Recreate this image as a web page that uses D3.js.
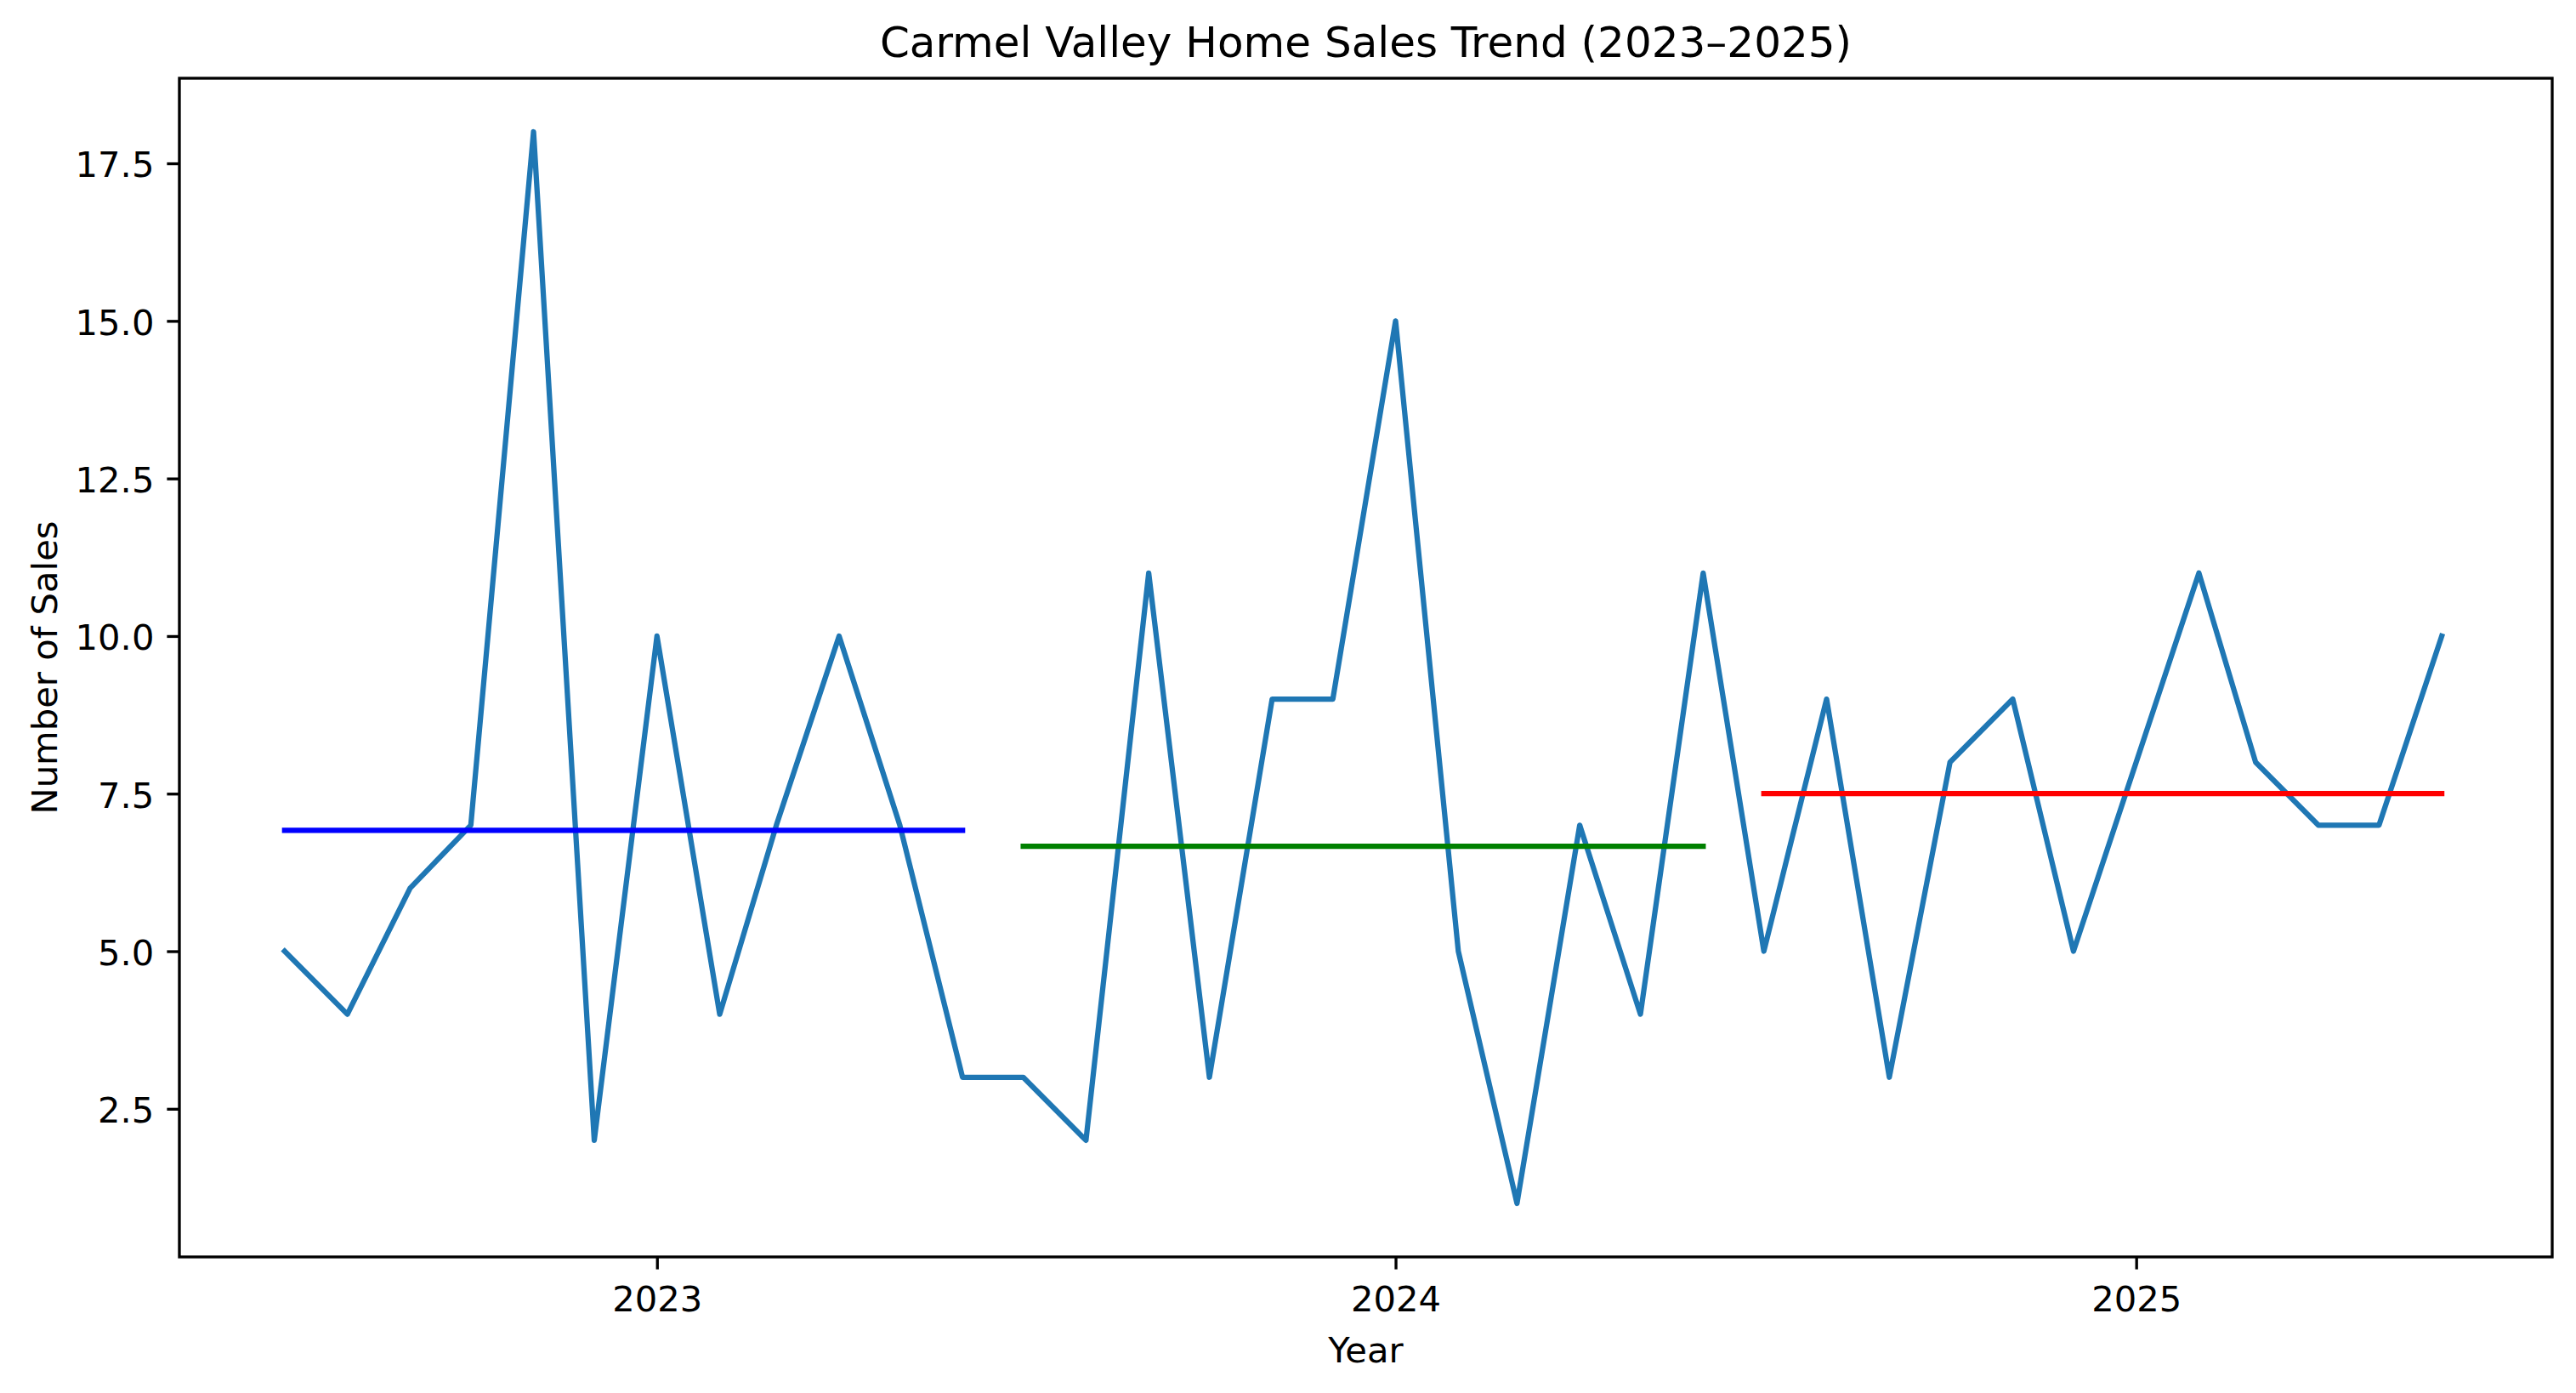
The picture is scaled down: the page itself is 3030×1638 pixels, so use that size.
<!DOCTYPE html>
<html>
<head>
<meta charset="utf-8">
<script src="https://cdn.jsdelivr.net/npm/d3@7"></script>
<style>
  body { margin: 0; background: #fff; }
  text { font-family: "DejaVu Sans", sans-serif; fill: #000; }
</style>
</head>
<body>
<svg id="chart"></svg>
<script>
// monthly sales, Jul 2022 .. Jun 2025
var months = ["2022-07","2022-08","2022-09","2022-10","2022-11","2022-12",
              "2023-01","2023-02","2023-03","2023-04","2023-05","2023-06",
              "2023-07","2023-08","2023-09","2023-10","2023-11","2023-12",
              "2024-01","2024-02","2024-03","2024-04","2024-05","2024-06",
              "2024-07","2024-08","2024-09","2024-10","2024-11","2024-12",
              "2025-01","2025-02","2025-03","2025-04","2025-05","2025-06"];
var sales = [5, 4, 6, 7, 18, 2, 10, 4, 7, 10, 7, 3,
             3, 2, 11, 3, 9, 9, 15, 5, 1, 7, 4, 11,
             5, 9, 3, 8, 9, 5, 8, 11, 8, 7, 7, 10];

// 12-month periods that get an average line
var periodStart = ["2022-07", "2023-07", "2024-07"];
var periodEnd   = ["2023-06", "2024-06", "2025-06"];

var yearTicks = ["2023-01", "2024-01", "2025-01"];
var yTicks = [2.5, 5.0, 7.5, 10.0, 12.5, 15.0, 17.5];

var meanColors = ["blue", "green", "red"];

var W = 3030, H = 1638;
var margin = {top: 92, right: 28, bottom: 160, left: 211};
var width = W - margin.left - margin.right,
    height = H - margin.top - margin.bottom;

var parseMonth = d3.timeParse("%Y-%m");
var data = months.map(function(m, i) { return {date: parseMonth(m), value: sales[i]}; });

var svg = d3.select("#chart")
  .attr("width", W)
  .attr("height", H)
  .append("g")
  .attr("transform", "translate(" + margin.left + "," + margin.top + ")");

// roughly matplotlib's 5% margins
var xExt = d3.extent(data, function(d) { return d.date; });
var span = xExt[1] - xExt[0];
var x = d3.scaleTime()
  .domain([new Date(+xExt[0] - span * 0.0488), new Date(+xExt[1] + span * 0.0512)])
  .range([0, width]);

var yExt = d3.extent(data, function(d) { return d.value; });
var yPad = (yExt[1] - yExt[0]) * 0.05;
var y = d3.scaleLinear()
  .domain([yExt[0] - yPad, yExt[1] + yPad])
  .range([height, 0]);

var tickLen = 14.6, lw = 3.33;

// X axis
var xAxis = svg.append("g")
  .attr("transform", "translate(0," + height + ")")
  .call(d3.axisBottom(x)
    .tickValues(yearTicks.map(parseMonth))
    .tickFormat(d3.timeFormat("%Y"))
    .tickSize(tickLen)
    .tickSizeOuter(0)
    .tickPadding(20));
xAxis.select(".domain").remove();
xAxis.selectAll("line").attr("stroke-width", lw);
xAxis.selectAll("text").style("font-size", "41.7px").attr("font-family", null);

// Y axis
var yAxis = svg.append("g")
  .call(d3.axisLeft(y)
    .tickValues(yTicks)
    .tickFormat(d3.format(".1f"))
    .tickSize(tickLen)
    .tickSizeOuter(0)
    .tickPadding(15));
yAxis.select(".domain").remove();
yAxis.selectAll("line").attr("stroke-width", lw);
yAxis.selectAll("text").style("font-size", "41.7px").attr("dy", "0.38em").attr("font-family", null);

// main line
svg.append("path")
  .datum(data)
  .attr("fill", "none")
  .attr("stroke", "#1f77b4")
  .attr("stroke-width", 6.25)
  .attr("stroke-linejoin", "round")
  .attr("stroke-linecap", "square")
  .attr("d", d3.line()
    .x(function(d) { return x(d.date); })
    .y(function(d) { return y(d.value); }));

// yearly averages
periodStart.forEach(function(s, i) {
  var a = parseMonth(s), b = parseMonth(periodEnd[i]);
  var seg = data.filter(function(d) { return d.date >= a && d.date <= b; });
  var avg = d3.mean(seg, function(d) { return d.value; });
  svg.append("path")
    .datum([[a, avg], [b, avg]])
    .attr("fill", "none")
    .attr("stroke", meanColors[i])
    .attr("stroke-width", 6.25)
    .attr("stroke-linecap", "square")
    .attr("d", d3.line()
      .x(function(d) { return x(d[0]); })
      .y(function(d) { return y(d[1]); }));
});

// frame
svg.append("rect")
  .attr("width", width)
  .attr("height", height)
  .attr("fill", "none")
  .attr("stroke", "#000")
  .attr("stroke-width", lw);

// title and labels
svg.append("text")
  .attr("x", width / 2)
  .attr("y", -25)
  .attr("text-anchor", "middle")
  .style("font-size", "50px")
  .text("Carmel Valley Home Sales Trend (2023\u20132025)");

svg.append("text")
  .attr("x", width / 2)
  .attr("y", height + 124)
  .attr("text-anchor", "middle")
  .style("font-size", "41.7px")
  .text("Year");

svg.append("text")
  .attr("transform", "translate(" + (67 - margin.left) + "," + (height / 2) + ") rotate(-90)")
  .attr("text-anchor", "middle")
  .style("font-size", "41.7px")
  .text("Number of Sales");
</script>
</body>
</html>
